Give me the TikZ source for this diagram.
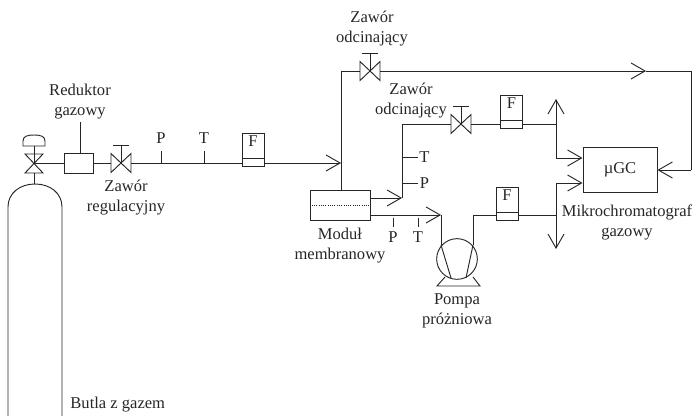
\documentclass[tikz,border=0pt]{standalone}
\usepackage{fontspec}
\setmainfont{Liberation Serif}
\usetikzlibrary{arrows.meta, positioning}
\definecolor{pipe}{HTML}{262626}
\tikzset{
  gatevalve/.pic={
    \draw (-10,-9.5) -- (10,9.5) -- (10,-9.5) -- (-10,9.5) -- cycle;
    \draw (0,0) -- (0,-18);
    \draw (-8,-18) -- (8,-18);
  }
}
\begin{document}
\begin{tikzpicture}[x=0.75pt, y=-0.75pt, line width=0.7pt, draw=pipe,
  txt/.style={align=center, font=\fontsize{12.4}{15}\selectfont, inner sep=0pt, text=pipe},
  tag/.style={txt, minimum width=9pt, minimum height=15pt},
  tagtall/.style={tag, minimum height=19.5pt},
  box/.style={draw=pipe, minimum width=#1, minimum height=22.5pt, inner sep=0pt},
  flowbox/.style={draw=pipe, txt, minimum width=16.5pt, text height=10.5pt, text depth=14.25pt},
  hub/.style={minimum width=15pt, minimum height=14pt, inner sep=0pt},
  >={Straight Barb[length=10.5pt, width=12pt]}
]
\useasboundingbox (0,0) rectangle (693,416);

% butla
\draw (8,416) -- (8,207) .. controls (8,193) and (20,184) .. (35,184)
  .. controls (50,184) and (62,193) .. (62,207) -- (62,416);
\coordinate (neck) at (34,184);
\node[txt, anchor=west] (butla) at (70,405) {Butla z gazem};

% zawor na butli
\node[hub, minimum width=14pt] (vb) at (34,163.5) {};
\draw (25,154) -- (43,173) -- (25,173) -- (43,154) -- cycle;
\draw (34,173) -- (neck);
\draw (34,163.5) -- (34,146);
\draw (23,146) -- (45,146) -- (45,141) .. controls (45,136) and (40,135) .. (34,135)
  .. controls (28,135) and (23,136) .. (23,141) -- cycle;

% linia glowna
\node[box=21.75pt, minimum height=15pt] (red) at (78.5,163) {};
\node[hub] (vreg) at (121,163) {};
\pic at (vreg) {gatevalve};
\node[flowbox] (f1) at (253,149.5) {F};
\coordinate (in) at (341,163);
\coordinate (redtop) at (80,122);
\draw (34,163) -- (red);
\draw (red) -- (vreg);
\draw (vreg) -- (f1.west |- vreg);
\draw[->] (f1.east |- vreg) -- (in);
\draw (redtop) -- (redtop |- red.north);
\path (redtop) ++(0,-2) coordinate (redtxt);
\node[txt, anchor=south] (redlab) at (redtxt) {Reduktor\\gazowy};
\node[txt, below=4.75pt of vreg, xshift=3.75pt] (reglab) {Zawór\\regulacyjny};
\node[tagtall] (p1) at (161,138) {P};
\node[tagtall] (t1) at (204,138) {T};
\draw (p1.south) -- (p1.south |- vreg);
\draw (t1.south) -- (t1.south |- vreg);

% modul
\node[box=45pt] (mod) at (340,205) {};
\draw[densely dotted] (mod.west) -- (mod.east);
\node[txt, below=5pt of mod] (modlab) {Moduł\\membranowy};

% gorna galaz
\node[hub] (v1) at (370,71) {};
\pic at (v1) {gatevalve};
\node[txt] (v1lab) at (372,29) {Zawór\\odcinający};
\node[draw=pipe, txt, minimum width=55.5pt, minimum height=33.75pt] (gc) at (620,169.5) {µGC};
\coordinate (tip1) at (646,71);
\coordinate (ne) at (691,71);
\coordinate (se) at (691,170);
\draw (341,190) -- (341,71) -- (v1);
\draw[->] (v1) -- (tip1);
\draw (tip1) -- (ne) -- (se);
\draw[->] (se) -- (gc.east |- se);

% srodkowa galaz
\coordinate (j1) at (402,198);
\coordinate (j1top) at (402,124);
\node[hub] (v2) at (461,124) {};
\pic at (v2) {gatevalve};
\node[txt] (v2lab) at (411,101) {Zawór\\odcinający};
\node[flowbox] (f2) at (511.5,111.5) {F};
\coordinate (j2) at (556,124);
\coordinate (up) at (556,99);
\coordinate (gcin1) at (556,158);
\draw[->] (mod.east |- j1) -- (j1);
\draw (j1) -- (j1top) -- (v2);
\draw (v2) -- (f2.west |- v2);
\draw (f2.east |- v2) -- (j2);
\draw[->] (j2) -- (up);
\draw (j2) -- (gcin1);
\draw[->] (gcin1) -- (gc.west |- gcin1);
\node[tag, anchor=west] (t2) at (418,157) {T};
\node[tag, anchor=west] (p2) at (418,183) {P};
\draw (402,157) -- (t2.west);
\draw (402,183) -- (p2.west);

% dolna galaz i pompa
\coordinate (j3) at (441,215);
\node[draw=pipe, circle, minimum size=30.5pt, inner sep=0pt] (pump) at (457,259) {};
\node[txt, below=10pt of pump] (pumplab) {Pompa\\próżniowa};
\node[flowbox] (f3) at (507,203.5) {F};
\coordinate (j4) at (473,215);
\coordinate (j5) at (556,215);
\coordinate (down) at (556,249);
\coordinate (gcin2) at (556,183);
\draw[->] (mod.east |- j3) -- (j3);
\draw (j3) -- (441,245);
\draw (473,245) -- (j4) -- (f3.west |- j4);
\draw (f3.east |- j4) -- (j5);
\draw[->] (j5) -- (down);
\draw (j5) -- (gcin2);
\draw[->] (gcin2) -- (gc.west |- gcin2);
\draw (441,245) -- (451,278);
\draw (473,245) -- (466,278);
\draw (445,277) -- (437,286) -- (480,286) -- (473,277);
\node[tag] (p3) at (393,237) {P};
\node[tag] (t3) at (418,237) {T};
\draw[shorten <=2pt] (p3.north |- j3) -- (p3.north);
\draw[shorten <=2pt] (t3.north |- j3) -- (t3.north);
\node[txt] (gclab) at (627,222) {Mikrochromatograf\\gazowy};

% podzialki F
\foreach \f in {f1,f2,f3} {
  \draw (\f.south west) ++(0,-8) -- ++(22,0);
}
\end{tikzpicture}
\end{document}
